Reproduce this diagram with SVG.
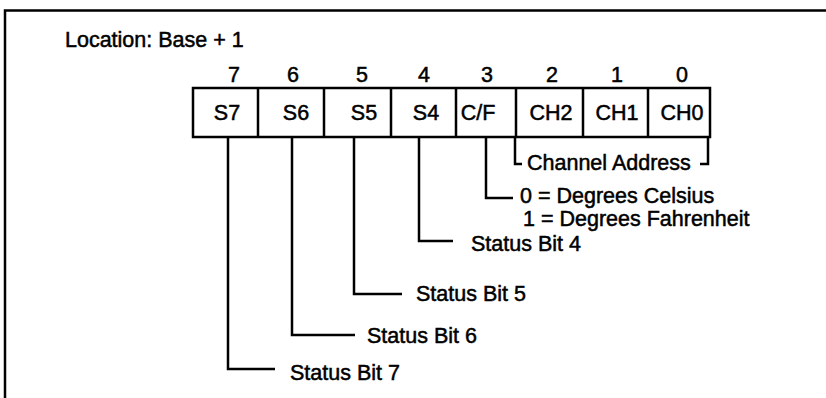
<svg xmlns="http://www.w3.org/2000/svg" width="826" height="398" viewBox="0 0 826 398">
<style>
  text { font-family: "Liberation Sans", Arial, sans-serif; font-size: 21.5px; fill: #000; stroke: #000; stroke-width: 0.5px; }
  .c { text-anchor: middle; }
  .ln { fill: none; stroke: #000; stroke-width: 2.5; stroke-linejoin: miter; }
  .box { fill: #fff; stroke: #000; stroke-width: 2.5; }
</style>
<rect width="826" height="398" fill="#fff"/>
<g id="frame"><path class="ln" d="M5,398 V10.5 H826"/></g>
<g id="title"><text x="65" y="47">Location: Base + 1</text></g>
<g id="register">
  <rect class="box" x="193" y="88" width="517" height="49"/>
  <path class="ln" d="M258,88V137 M324,88V137 M391,88V137 M456,88V137 M516,88V137 M583,88V137 M648,88V137"/>
  <g id="bit7"><text class="c" x="234" y="82">7</text><text class="c" x="227" y="120">S7</text></g>
  <g id="bit6"><text class="c" x="293" y="82">6</text><text class="c" x="296" y="120">S6</text></g>
  <g id="bit5"><text class="c" x="362" y="82">5</text><text class="c" x="364" y="120">S5</text></g>
  <g id="bit4"><text class="c" x="424" y="82">4</text><text class="c" x="426" y="120">S4</text></g>
  <g id="bit3"><text class="c" x="487" y="82">3</text><text class="c" x="478" y="120">C/F</text></g>
  <g id="bit2"><text class="c" x="552" y="82">2</text><text class="c" x="551" y="120">CH2</text></g>
  <g id="bit1"><text class="c" x="617" y="82">1</text><text class="c" x="617" y="120">CH1</text></g>
  <g id="bit0"><text class="c" x="682" y="82">0</text><text class="c" x="682" y="120">CH0</text></g>
</g>
<g id="connectors">
  <path class="ln" d="M515,137 V164 H522"/>
  <path class="ln" d="M708,137 V164 H700"/>
  <path class="ln" d="M486,137 V198 H513"/>
  <path class="ln" d="M419,137 V241 H453"/>
  <path class="ln" d="M354,137 V294 H402"/>
  <path class="ln" d="M292,137 V335 H355"/>
  <path class="ln" d="M228,137 V369 H275"/>
</g>
<g id="labels">
  <text x="527" y="170">Channel Address</text>
  <text x="520" y="203">0 = Degrees Celsius</text>
  <text x="523" y="226">1 = Degrees Fahrenheit</text>
  <text x="471" y="251">Status Bit 4</text>
  <text x="416" y="301">Status Bit 5</text>
  <text x="367" y="343">Status Bit 6</text>
  <text x="290" y="380">Status Bit 7</text>
</g>
</svg>
